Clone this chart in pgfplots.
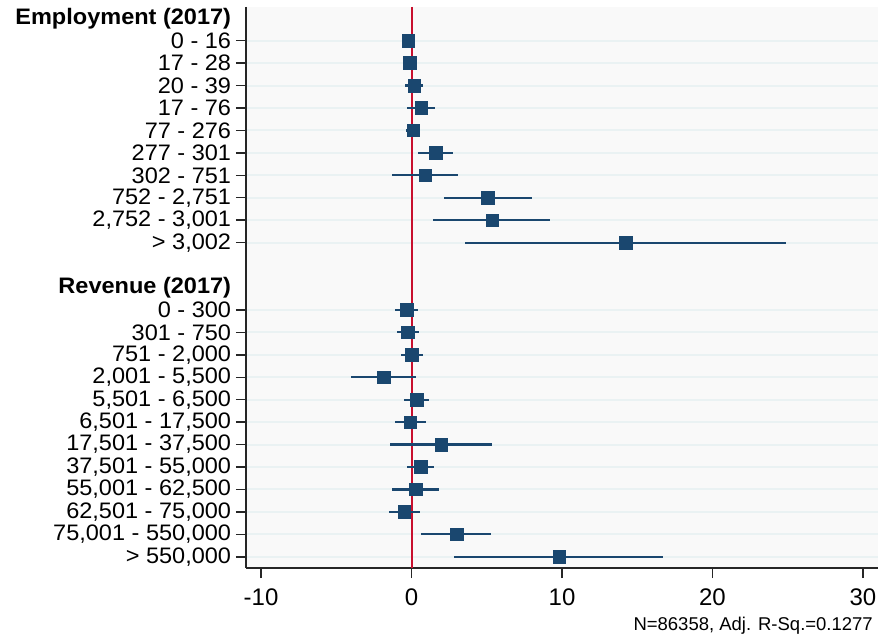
\documentclass[border=0pt]{standalone}
\usepackage{pgfplots}
\pgfplotsset{compat=1.18}
\usepackage{pgfplotstable}
\usepackage{fontspec}
\setmainfont{Liberation Sans}
\definecolor{navy}{HTML}{1A476F}
\definecolor{cranb}{HTML}{C8102E}
\definecolor{gridc}{HTML}{EAF2F3}
\definecolor{plotbg}{HTML}{F9F9F9}
\pgfplotstableread{
row b lo hi
1 -0.22 -0.45 0.02
2 -0.13 -0.35 0.08
3 0.18 -0.44 0.73
4 0.64 -0.33 1.55
5 0.11 -0.40 0.55
6 1.60 0.42 2.75
7 0.91 -1.31 3.06
8 5.05 2.13 8.02
9 5.36 1.42 9.19
10 14.22 3.54 24.87
13 -0.33 -1.13 0.44
14 -0.24 -0.98 0.51
15 0.00 -0.73 0.73
16 -1.86 -4.05 0.27
17 0.35 -0.49 1.13
18 -0.09 -1.13 0.93
19 1.99 -1.42 5.34
20 0.60 -0.33 1.51
21 0.27 -1.31 1.84
22 -0.49 -1.48 0.55
23 2.99 0.64 5.27
24 9.81 2.84 16.74
}\coefs
\begin{document}
\begin{tikzpicture}[x=1pt,y=1pt]
\path[use as bounding box] (0,0) rectangle (880,639);
\fill[white] (0,0) rectangle (880,639);
\begin{axis}[
  at={(246pt,71pt)}, anchor=south west,
  scale only axis, width=632pt, height=561pt,
  xmin=-11, xmax=31, ymin=-0.5, ymax=24.5, y dir=reverse,
  axis x line*=bottom, axis y line*=left,
  axis line style={black!85, line width=1.5pt, -},
  axis background/.style={fill=plotbg},
  xtick={-10,0,10,20,30},
  xticklabels={-10,0,10,20,30},
  ytick={1,2,3,4,5,6,7,8,9,10,13,14,15,16,17,18,19,20,21,22,23,24},
  yticklabels={{0 - 16},{17 - 28},{20 - 39},{17 - 76},{77 - 276},{277 - 301},{302 - 751},{752 - 2,751},{2,752 - 3,001},{> 3,002},
    {0 - 300},{301 - 750},{751 - 2,000},{2,001 - 5,500},{5,501 - 6,500},{6,501 - 17,500},{17,501 - 37,500},{37,501 - 55,000},{55,001 - 62,500},{62,501 - 75,000},{75,001 - 550,000},{> 550,000}},
  extra y ticks={0,12},
  extra y tick labels={\textbf{Employment (2017)},\textbf{Revenue (2017)}},
  extra y tick style={grid=none, major tick style={draw=none}},
  tick align=outside, major tick length=10pt,
  major tick style={black!85, line width=1.5pt},
  minor tick num=0,
  ymajorgrids, xmajorgrids=false,
  major grid style={gridc, line width=2pt},
  yticklabel style={font=\fontsize{22.4}{25}\selectfont, xscale=1.05, inner xsep=4.5pt, inner ysep=0pt, text=black},
  xticklabel style={font=\fontsize{24}{27}\selectfont, inner sep=2pt, yshift=-9pt, text=black},
  clip=false,
]
\addplot[cranb, line width=2pt] coordinates {(0,-0.5) (0,24.5)};
\addplot[navy, only marks, mark=square*, mark size=6.3pt,
  mark options={draw=navy, fill=navy, line width=0.6pt, rounded corners=1pt},
  error bars/.cd, x dir=both, x explicit, error mark=none,
  error bar style={navy, line width=2.2pt}]
  table[x=b, y=row,
    x error plus expr=\thisrow{hi}-\thisrow{b},
    x error minus expr=\thisrow{b}-\thisrow{lo}] {\coefs};
\end{axis}
\node[anchor=east, inner sep=0pt, font=\fontsize{18.5}{21}\selectfont] at (873pt,13pt) {N=86358, Adj. R-Sq.=0.1277};
\end{tikzpicture}
\end{document}
